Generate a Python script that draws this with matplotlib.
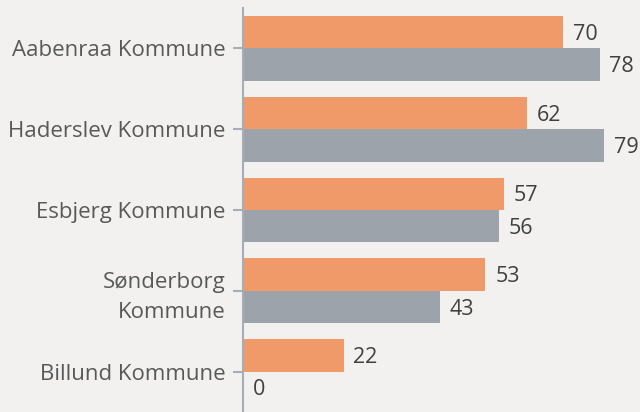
"""Grouped horizontal bars per kommune, two series."""

import numpy as np
import matplotlib
matplotlib.use("Agg")
import matplotlib.pyplot as plt

categories = ["Aabenraa Kommune", "Haderslev Kommune", "Esbjerg Kommune",
              "Sønderborg\nKommune", "Billund Kommune"]
series_a = [70, 62, 57, 53, 22]
series_b = [78, 79, 56, 43, 0]

BG = "#f2f1f0"
ORANGE = "#f09a69"
GREY = "#9ca3aa"

plt.rcParams["font.family"] = ["Open Sans", "DejaVu Sans"]

fig = plt.figure(figsize=(6.4, 4.12), dpi=100, facecolor=BG)
ax = fig.add_axes([243 / 640, 0.0, 1 - 243 / 640, (412 - 8) / 412])
ax.set_facecolor(BG)

ys = np.arange(len(categories))
h = 0.4
bars_a = ax.barh(ys - h / 2, series_a, height=h, color=ORANGE)
bars_b = ax.barh(ys + h / 2, series_b, height=h, color=GREY)

for bars, vals in ((bars_a, series_a), (bars_b, series_b)):
    for b, v in zip(bars, vals):
        ax.annotate(f"{v}", (v, b.get_y() + b.get_height() / 2),
                    xytext=(7, -1.5), textcoords="offset points",
                    va="center", ha="left", fontsize=15.5, color="#404040")

ax.set_xlim(0, 86.8)
ax.set_ylim(len(categories) - 0.5, -0.5)
ax.set_yticks(ys)
ax.set_yticklabels(categories, fontsize=16, color="#595959",
                   linespacing=1.55, ha="right")
ax.set_xticks([])
ax.tick_params(axis="y", length=7.5, width=1.5, color="#a7adb3", pad=5)
for s in ("top", "right", "bottom"):
    ax.spines[s].set_visible(False)
ax.spines["left"].set_color("#a7adb3")
ax.spines["left"].set_linewidth(1.5)

fig.savefig("out.png", dpi=100, facecolor=BG)
